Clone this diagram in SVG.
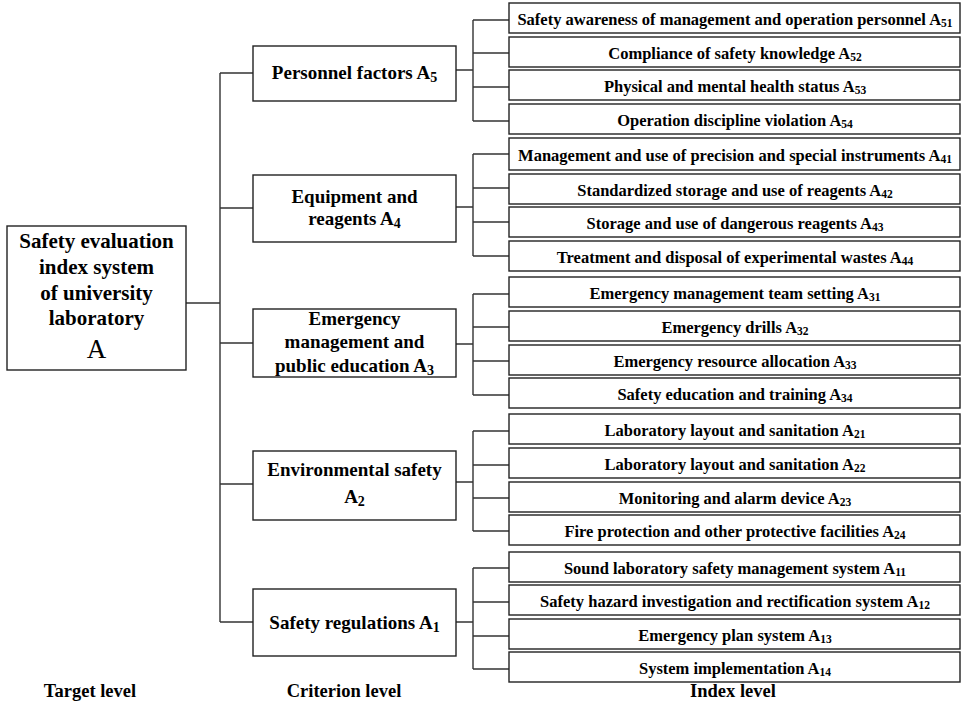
<svg xmlns="http://www.w3.org/2000/svg" width="962" height="704" viewBox="0 0 962 704">
<style>
.box{fill:#fff;stroke:#222;stroke-width:1.4}
.ln{fill:none;stroke:#333;stroke-width:1.4}
text{font-family:Liberation Serif, DejaVu Serif, serif;font-weight:bold;fill:#000;text-anchor:middle}
.ix{font-size:16.5px}
.cr{font-size:19px}
.tg{font-size:21px}
.lv{font-size:18.5px}
.s{font-size:11.5px}
.sc{font-size:14px}
</style>
<rect width="962" height="704" fill="#fff"/>
<g id="connectors">
<path class="ln" d="M186,303H220M220,73V622M220,73H253M220,208H253M220,343H253M220,484H253M220,622H253"/>
<path class="ln" d="M456,70H473M473,20V121M473,20H509M473,53H509M473,87H509M473,121H509"/>
<path class="ln" d="M456,207H473M473,154V256M473,154H509M473,188H509M473,222H509M473,256H509"/>
<path class="ln" d="M456,344H473M473,294V395M473,294H509M473,327H509M473,361H509M473,395H509"/>
<path class="ln" d="M456,482H473M473,431V531M473,431H509M473,465H509M473,498H509M473,531H509"/>
<path class="ln" d="M456,622H473M473,568V669M473,568H509M473,602H509M473,636H509M473,669H509"/>
</g>
<g id="target">
<rect class="box" x="7" y="226" width="179" height="144"/>
<text class="tg" x="96.5" y="248">Safety evaluation</text>
<text class="tg" x="96.5" y="274">index system</text>
<text class="tg" x="96.5" y="300">of university</text>
<text class="tg" x="96.5" y="325">laboratory</text>
<text x="96.5" y="358" style="font-size:27px;font-weight:normal">A</text>
</g>
<g id="c5"><rect class="box" x="253" y="46" width="203" height="55"/><text class="cr" x="354.5" y="79">Personnel factors A<tspan class="sc" dy="3">5</tspan></text></g>
<g id="c4"><rect class="box" x="253" y="175" width="203" height="67"/><text class="cr" x="354.5" y="203">Equipment and</text><text class="cr" x="354.5" y="225">reagents A<tspan class="sc" dy="3">4</tspan></text></g>
<g id="c3"><rect class="box" x="253" y="309" width="203" height="68"/><text class="cr" x="354.5" y="325">Emergency</text><text class="cr" x="354.5" y="348">management and</text><text class="cr" x="354.5" y="372">public education A<tspan class="sc" dy="3">3</tspan></text></g>
<g id="c2"><rect class="box" x="253" y="451" width="203" height="69"/><text class="cr" x="354.5" y="476">Environmental safety</text><text class="cr" x="354.5" y="503">A<tspan class="sc" dy="3">2</tspan></text></g>
<g id="c1"><rect class="box" x="253" y="589" width="203" height="67"/><text class="cr" x="354.5" y="629">Safety regulations A<tspan class="sc" dy="3">1</tspan></text></g>
<g id="i51"><rect class="box" x="509" y="3" width="451" height="30"/><text class="ix" x="735" y="25">Safety awareness of management and operation personnel A<tspan class="s" dy="2">51</tspan></text></g>
<g id="i52"><rect class="box" x="509" y="37" width="451" height="30"/><text class="ix" x="735" y="59">Compliance of safety knowledge A<tspan class="s" dy="2">52</tspan></text></g>
<g id="i53"><rect class="box" x="509" y="70" width="451" height="30"/><text class="ix" x="735" y="92">Physical and mental health status A<tspan class="s" dy="2">53</tspan></text></g>
<g id="i54"><rect class="box" x="509" y="104" width="451" height="30"/><text class="ix" x="735" y="126">Operation discipline violation A<tspan class="s" dy="2">54</tspan></text></g>
<g id="i41"><rect class="box" x="509" y="138" width="451" height="32"/><text class="ix" x="735" y="161">Management and use of precision and special instruments A<tspan class="s" dy="2">41</tspan></text></g>
<g id="i42"><rect class="box" x="509" y="174" width="451" height="30"/><text class="ix" x="735" y="196">Standardized storage and use of reagents A<tspan class="s" dy="2">42</tspan></text></g>
<g id="i43"><rect class="box" x="509" y="207" width="451" height="30"/><text class="ix" x="735" y="229">Storage and use of dangerous reagents A<tspan class="s" dy="2">43</tspan></text></g>
<g id="i44"><rect class="box" x="509" y="241" width="451" height="30"/><text class="ix" x="735" y="263">Treatment and disposal of experimental wastes A<tspan class="s" dy="2">44</tspan></text></g>
<g id="i31"><rect class="box" x="509" y="277" width="451" height="30"/><text class="ix" x="735" y="299">Emergency management team setting A<tspan class="s" dy="2">31</tspan></text></g>
<g id="i32"><rect class="box" x="509" y="311" width="451" height="30"/><text class="ix" x="735" y="333">Emergency drills A<tspan class="s" dy="2">32</tspan></text></g>
<g id="i33"><rect class="box" x="509" y="345" width="451" height="30"/><text class="ix" x="735" y="367">Emergency resource allocation A<tspan class="s" dy="2">33</tspan></text></g>
<g id="i34"><rect class="box" x="509" y="378" width="451" height="30"/><text class="ix" x="735" y="400">Safety education and training A<tspan class="s" dy="2">34</tspan></text></g>
<g id="i21"><rect class="box" x="509" y="414" width="451" height="30"/><text class="ix" x="735" y="436">Laboratory layout and sanitation A<tspan class="s" dy="2">21</tspan></text></g>
<g id="i22"><rect class="box" x="509" y="448" width="451" height="30"/><text class="ix" x="735" y="470">Laboratory layout and sanitation A<tspan class="s" dy="2">22</tspan></text></g>
<g id="i23"><rect class="box" x="509" y="482" width="451" height="30"/><text class="ix" x="735" y="504">Monitoring and alarm device A<tspan class="s" dy="2">23</tspan></text></g>
<g id="i24"><rect class="box" x="509" y="515" width="451" height="30"/><text class="ix" x="735" y="537">Fire protection and other protective facilities A<tspan class="s" dy="2">24</tspan></text></g>
<g id="i11"><rect class="box" x="509" y="552" width="451" height="30"/><text class="ix" x="735" y="574">Sound laboratory safety management system A<tspan class="s" dy="2">11</tspan></text></g>
<g id="i12"><rect class="box" x="509" y="585" width="451" height="30"/><text class="ix" x="735" y="607">Safety hazard investigation and rectification system A<tspan class="s" dy="2">12</tspan></text></g>
<g id="i13"><rect class="box" x="509" y="619" width="451" height="30"/><text class="ix" x="735" y="641">Emergency plan system A<tspan class="s" dy="2">13</tspan></text></g>
<g id="i14"><rect class="box" x="509" y="652" width="451" height="30"/><text class="ix" x="735" y="674">System implementation A<tspan class="s" dy="2">14</tspan></text></g>
<g id="levels">
<text class="lv" x="90" y="697">Target level</text>
<text class="lv" x="344" y="697">Criterion level</text>
<text class="lv" x="733" y="697">Index level</text>
</g>
</svg>
